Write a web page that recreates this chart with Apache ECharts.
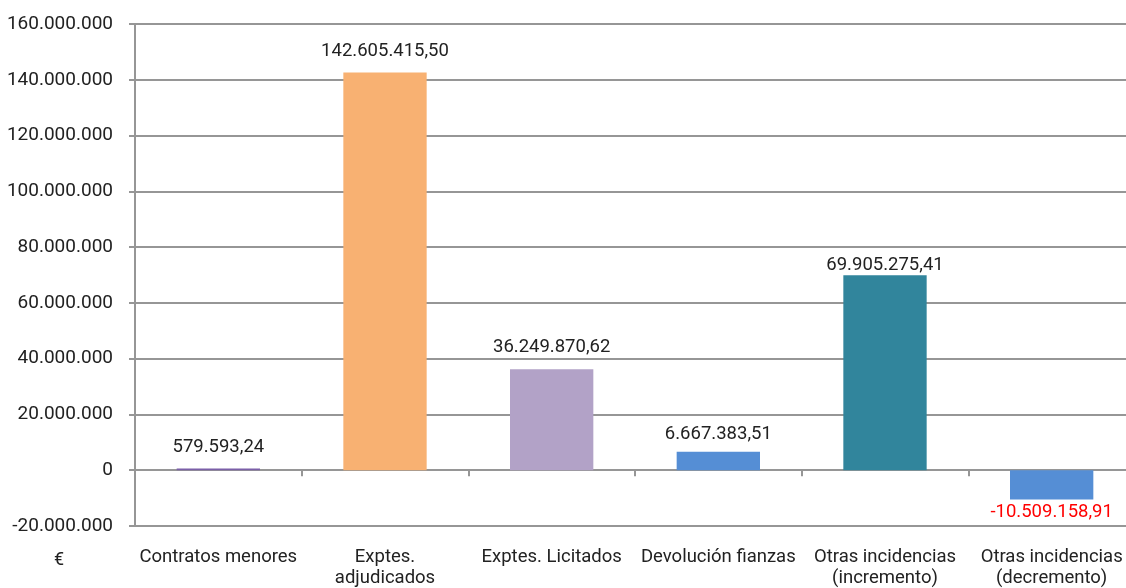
<!DOCTYPE html>
<html>
<head>
<meta charset="utf-8">
<script src="https://cdn.jsdelivr.net/npm/echarts@6/dist/echarts.min.js"></script>
<style>
  html, body { margin: 0; padding: 0; background: #fff; overflow: hidden; }
  /* el área del gráfico sobresale un poco por la derecha, como en el original */
  #chart { width: 1135px; height: 588px; }
</style>
</head>
<body>
<div id="chart"></div>
<script>
// datos del gráfico
const categorias = ['Contratos menores', 'Exptes.\nadjudicados', 'Exptes. Licitados', 'Devolución fianzas', 'Otras incidencias\n(incremento)', 'Otras incidencias\n(decremento)'];
const importes = [579593.24, 142605415.50, 36249870.62, 6667383.51, 69905275.41, -10509158.91];
const coloresBarras = ['#7b5fa8', '#f8b172', '#b2a2c7', '#558ed5', '#31859c', '#558ed5'];
// separación de cada etiqueta respecto a su barra (en el original no es uniforme)
const distanciaEtiqueta = [12, 12, 12, 8, 0, 3];

// formato español: 1.234.567,89
function formatoMiles(v, decimales) {
    const neg = v < 0;
    const partes = Math.abs(v).toFixed(decimales).split('.');
    const entero = partes[0].replace(/\B(?=(\d{3})+(?!\d))/g, '.');
    return (neg ? '-' : '') + entero + (decimales ? ',' + partes[1] : '');
}

const chart = echarts.init(document.getElementById('chart'));

const option = {
    animation: false,
    textStyle: { fontFamily: 'Roboto' },
    grid: {
        left: 135,
        right: 0,
        top: 24,
        bottom: 62,
        outerBoundsMode: 'none'
    },
    xAxis: [
        {
            type: 'category',
            data: categorias,
            axisLine: {
                onZero: true,
                lineStyle: { color: '#969696', width: 2 }
            },
            axisTick: {
                show: true,
                length: 6,
                lineStyle: { color: '#969696', width: 2 }
            },
            axisLabel: { show: false }
        },
        {
            type: 'category',
            data: categorias,
            position: 'bottom',
            axisLine: { show: false, onZero: false },
            axisTick: { show: false },
            axisLabel: {
                color: '#222',
                fontSize: 18.5,
                lineHeight: 21,
                margin: 21,
                interval: 0,
                verticalAlign: 'top'
            }
        }
    ],
    yAxis: {
        type: 'value',
        min: -20000000,
        max: 160000000,
        interval: 20000000,
        axisLine: {
            show: true,
            lineStyle: { color: '#969696', width: 2 }
        },
        axisTick: {
            show: true,
            length: 6,
            lineStyle: { color: '#969696', width: 2 }
        },
        splitLine: {
            lineStyle: { color: '#969696', width: 2 }
        },
        axisLabel: {
            color: '#222',
            fontSize: 19,
            margin: 22,
            formatter: v => formatoMiles(v, 0)
        }
    },
    graphic: [
        {
            type: 'text',
            left: 54,
            top: 551,
            style: { text: '€', fill: '#222', fontSize: 18, fontFamily: 'Roboto' }
        }
    ],
    series: [
        {
            type: 'bar',
            xAxisIndex: 0,
            barWidth: '50%',
            data: importes.map((v, i) => ({
                value: v,
                itemStyle: { color: coloresBarras[i] },
                label: v < 0
                    ? { position: 'bottom', color: '#ff0000', distance: distanciaEtiqueta[i] }
                    : { distance: distanciaEtiqueta[i] }
            })),
            label: {
                show: true,
                position: 'top',
                color: '#222',
                fontSize: 18.5,
                formatter: p => formatoMiles(p.value, 2)
            }
        }
    ]
};

chart.setOption(option);
window.addEventListener('resize', () => chart.resize());
</script>
</body>
</html>
